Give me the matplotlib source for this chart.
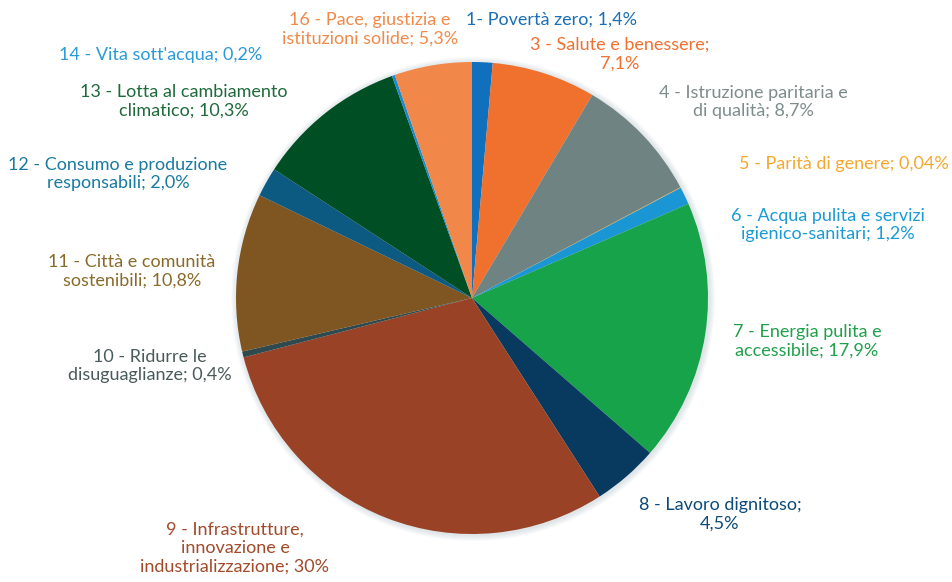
import matplotlib.pyplot as plt
from matplotlib.patches import Circle

plt.rcParams['font.family'] = ['Lato', 'DejaVu Sans']

# dati (percentuali per obiettivo)
labels = ["1- Povertà zero; 1,4%",
          "3 - Salute e benessere;\n7,1%",
          "4 - Istruzione paritaria e\ndi qualità; 8,7%",
          "5 - Parità di genere; 0,04%",
          "6 - Acqua pulita e servizi\nigienico-sanitari; 1,2%",
          "7 - Energia pulita e\naccessibile; 17,9%",
          "8 - Lavoro dignitoso;\n4,5%",
          "9 - Infrastrutture,\ninnovazione e\nindustrializzazione; 30%",
          "10 - Ridurre le\ndisuguaglianze; 0,4%",
          "11 - Città e comunità\nsostenibili; 10,8%",
          "12 - Consumo e produzione\nresponsabili; 2,0%",
          "13 - Lotta al cambiamento\nclimatico; 10,3%",
          "14 - Vita sott'acqua; 0,2%",
          "16 - Pace, giustizia e\nistituzioni solide; 5,3%"]
values = [1.4, 7.1, 8.7, 0.04, 1.2, 17.9, 4.5, 30, 0.4, 10.8, 2.0, 10.3, 0.2, 5.3]

colors = ['#1170bd', '#f0712e', '#6f8482', '#f5a623', '#1a96d4', '#17a34a',
          '#073a5e', '#9a4226', '#2e4a4e', '#7f5622', '#0c5a82', '#004f24',
          '#1a8ad0', '#f2874a']
text_colors = ['#1a6fb5', '#f07030', '#7f8c8c', '#f5a830', '#1a9ad6', '#1fa04a',
               '#0d4a78', '#a24a2a', '#4a5a5a', '#8a6a2a', '#1a7aa0', '#1e6a3a',
               '#2a9ad8', '#f08a4b']
# posizione delle etichette (pixel, y dall'alto)
label_pos = [(551, 20), (620, 54), (753, 102), (844, 164), (828, 225), (807, 341),
             (720, 514), (235, 548), (150, 366), (132, 271), (118, 174), (184, 101),
             (161, 55), (370, 29)]

W, H = 952, 582
fig = plt.figure(figsize=(W / 100, H / 100), dpi=100)
ax = fig.add_axes([0, 0, 1, 1])

cx, cy, r = 472, H - 298, 236

# ombra leggera intorno alla torta
for i in range(6):
    ax.add_patch(Circle((cx + 1, cy - 1), r + 1 + i, color='#9fb3bd',
                        alpha=0.06, lw=0, zorder=0))

ax.pie(values, colors=colors, startangle=90, counterclock=False,
       center=(cx, cy), radius=r, frame=True,
       wedgeprops=dict(linewidth=0))
ax.set_xlim(0, W)
ax.set_ylim(0, H)
ax.set_aspect('equal')
ax.axis('off')

for lab, (x, y), c in zip(labels, label_pos, text_colors):
    ax.text(x, H - y, lab, color=c, fontsize=13, ha='center', va='center',
            linespacing=1.2)

fig.savefig('out.png', dpi=100, facecolor='white')
